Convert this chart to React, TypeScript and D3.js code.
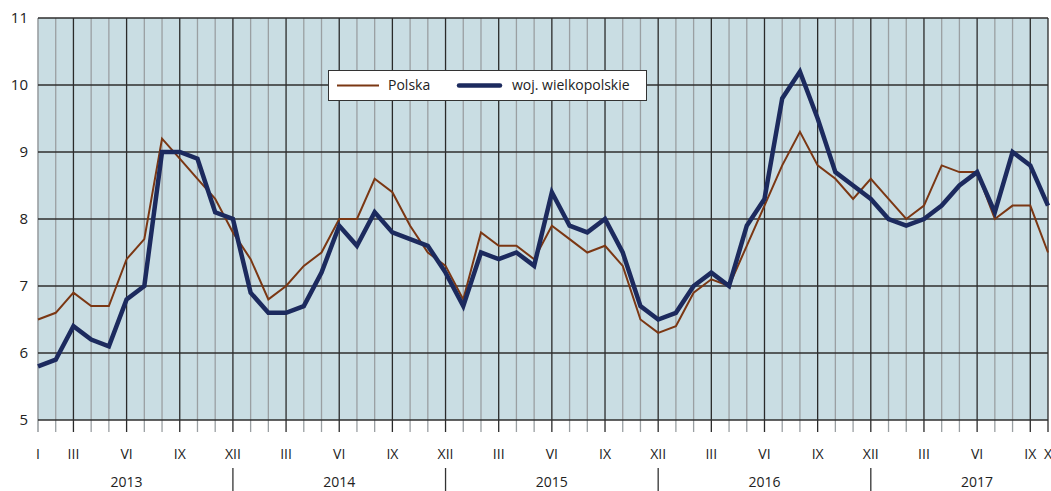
import React, { useEffect, useRef } from 'react';
import * as d3 from 'd3';

const years = ['2013', '2014', '2015', '2016', '2017'];
const romanMonths = ['I', 'II', 'III', 'IV', 'V', 'VI', 'VII', 'VIII', 'IX', 'X', 'XI', 'XII'];

const polska = [
  6.5, 6.6, 6.9, 6.7, 6.7, 7.4, 7.7, 9.2, 8.9, 8.6, 8.3, 7.8,
  7.4, 6.8, 7.0, 7.3, 7.5, 8.0, 8.0, 8.6, 8.4, 7.9, 7.5, 7.3,
  6.8, 7.8, 7.6, 7.6, 7.4, 7.9, 7.7, 7.5, 7.6, 7.3, 6.5, 6.3,
  6.4, 6.9, 7.1, 7.0, 7.6, 8.2, 8.8, 9.3, 8.8, 8.6, 8.3, 8.6,
  8.3, 8.0, 8.2, 8.8, 8.7, 8.7, 8.0, 8.2, 8.2, 7.5,
];

const wielkopolskie = [
  5.8, 5.9, 6.4, 6.2, 6.1, 6.8, 7.0, 9.0, 9.0, 8.9, 8.1, 8.0,
  6.9, 6.6, 6.6, 6.7, 7.2, 7.9, 7.6, 8.1, 7.8, 7.7, 7.6, 7.2,
  6.7, 7.5, 7.4, 7.5, 7.3, 8.4, 7.9, 7.8, 8.0, 7.5, 6.7, 6.5,
  6.6, 7.0, 7.2, 7.0, 7.9, 8.3, 9.8, 10.2, 9.5, 8.7, 8.5, 8.3,
  8.0, 7.9, 8.0, 8.2, 8.5, 8.7, 8.1, 9.0, 8.8, 8.2,
];

const yTicks = [5, 6, 7, 8, 9, 10, 11];

const FONT = "'Open Sans', 'Noto Sans', sans-serif";

export default function App() {
  const svgRef = useRef(null);

  useEffect(() => {
    const svg = d3.select(svgRef.current);
    svg.selectAll('*').remove();

    const W = 1051, H = 491;
    const left = 38, right = 1048, top = 18, bottom = 420;
    const n = polska.length;

    const x = d3.scaleLinear().domain([0, n - 1]).range([left, right]);
    const y = d3.scaleLinear().domain([5, 11]).range([bottom, top]);

    svg.attr('width', W).attr('height', H);

    // background
    svg.append('rect')
      .attr('x', left).attr('y', top)
      .attr('width', right - left).attr('height', bottom - top)
      .attr('fill', '#c9dde3');

    const idx = d3.range(n);
    const isQuarter = (i) => (i % 12) % 3 === 2;

    // vertical grid + ticks
    svg.append('g').selectAll('line')
      .data(idx)
      .join('line')
      .attr('x1', d => x(d)).attr('x2', d => x(d))
      .attr('y1', top).attr('y2', bottom + 12)
      .attr('stroke', d => (isQuarter(d) || d === n - 1) ? '#2a2a2a' : '#9a9fa2')
      .attr('stroke-width', d => d === 0 ? 1.6 : 1.3);

    // horizontal grid
    svg.append('g').selectAll('line')
      .data(yTicks)
      .join('line')
      .attr('x1', left).attr('x2', right)
      .attr('y1', d => y(d)).attr('y2', d => y(d))
      .attr('stroke', '#2e2e2e')
      .attr('stroke-width', 1.3);

    // y labels
    svg.append('g').selectAll('text')
      .data(yTicks)
      .join('text')
      .attr('x', 28).attr('y', d => y(d))
      .attr('dy', '0.35em')
      .attr('text-anchor', 'end')
      .attr('font-family', FONT)
      .attr('font-size', 15)
      .attr('fill', '#222')
      .text(d => d);

    // month labels
    const monthLabels = idx.filter(i => i === 0 || isQuarter(i) || i === n - 1);
    svg.append('g').selectAll('text')
      .data(monthLabels)
      .join('text')
      .attr('x', d => x(d)).attr('y', 459)
      .attr('text-anchor', 'middle')
      .attr('font-family', FONT)
      .attr('font-size', 14)
      .attr('fill', '#222')
      .text(d => romanMonths[d % 12]);

    // year labels centred on June
    svg.append('g').selectAll('text')
      .data(years)
      .join('text')
      .attr('x', (d, i) => x(i * 12 + 5)).attr('y', 487)
      .attr('text-anchor', 'middle')
      .attr('font-family', FONT)
      .attr('font-size', 14)
      .attr('fill', '#222')
      .text(d => d);

    // year separators at December
    svg.append('g').selectAll('line')
      .data(years.slice(0, -1))
      .join('line')
      .attr('x1', (d, i) => x(i * 12 + 11)).attr('x2', (d, i) => x(i * 12 + 11))
      .attr('y1', 468).attr('y2', 491)
      .attr('stroke', '#333')
      .attr('stroke-width', 1.3);

    const line = d3.line().x((d, i) => x(i)).y(d => y(d));

    svg.append('path')
      .datum(polska)
      .attr('d', line)
      .attr('fill', 'none')
      .attr('stroke', '#7b3713')
      .attr('stroke-width', 2)
      .attr('stroke-linejoin', 'miter');

    svg.append('path')
      .datum(wielkopolskie)
      .attr('d', line)
      .attr('fill', 'none')
      .attr('stroke', '#1c2a5e')
      .attr('stroke-width', 4.5)
      .attr('stroke-linejoin', 'miter');

    // legend
    const lg = svg.append('g');
    lg.append('rect')
      .attr('x', 328.5).attr('y', 70.5)
      .attr('width', 318).attr('height', 30)
      .attr('fill', '#fff')
      .attr('stroke', '#333')
      .attr('stroke-width', 1);
    lg.append('line')
      .attr('x1', 337).attr('x2', 379).attr('y1', 85.5).attr('y2', 85.5)
      .attr('stroke', '#7b3713').attr('stroke-width', 2);
    lg.append('text')
      .attr('x', 388).attr('y', 85.5).attr('dy', '0.35em')
      .attr('font-family', FONT).attr('font-size', 14).attr('fill', '#222')
      .text('Polska');
    lg.append('line')
      .attr('x1', 459).attr('x2', 500).attr('y1', 85.5).attr('y2', 85.5)
      .attr('stroke', '#1c2a5e').attr('stroke-width', 4.5)
      .attr('stroke-linecap', 'round');
    lg.append('text')
      .attr('x', 512).attr('y', 85.5).attr('dy', '0.35em')
      .attr('font-family', FONT).attr('font-size', 14).attr('fill', '#222')
      .text('woj. wielkopolskie');
  }, []);

  return (
    <div style={{ position: 'absolute', left: 0, top: 0 }}>
      <svg ref={svgRef} style={{ display: 'block' }}></svg>
    </div>
  );
}
